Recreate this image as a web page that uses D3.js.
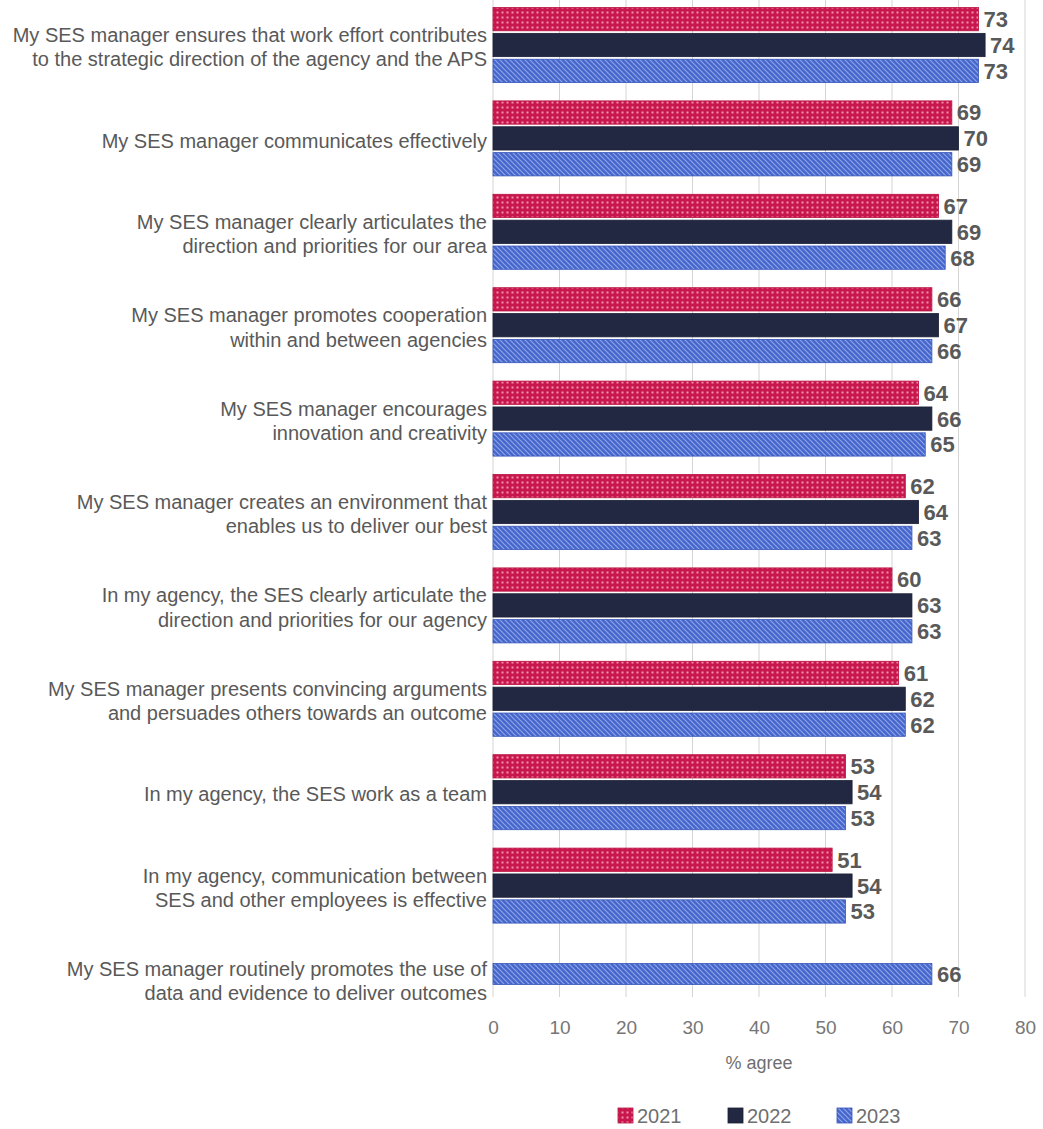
<!DOCTYPE html>
<html>
<head>
<meta charset="utf-8">
<script src="https://cdn.jsdelivr.net/npm/d3@7/dist/d3.min.js"></script>
<style>
  html, body { margin: 0; padding: 0; background: #ffffff; }
  svg { display: block; font-family: "Liberation Sans", Arial, sans-serif; }
</style>
</head>
<body>
<svg id="chart" width="1043" height="1129"></svg>
<script>
// ---- data ----
const categories = [
  ["My SES manager ensures that work effort contributes", "to the strategic direction of the agency and the APS"],
  ["My SES manager communicates effectively"],
  ["My SES manager clearly articulates the", "direction and priorities for our area"],
  ["My SES manager promotes cooperation", "within and between agencies"],
  ["My SES manager encourages", "innovation and creativity"],
  ["My SES manager creates an environment that", "enables us to deliver our best"],
  ["In my agency, the SES clearly articulate the", "direction and priorities for our agency"],
  ["My SES manager presents convincing arguments", "and persuades others towards an outcome"],
  ["In my agency, the SES work as a team"],
  ["In my agency, communication between", "SES and other employees is effective"],
  ["My SES manager routinely promotes the use of", "data and evidence to deliver outcomes"]
];
const seriesNames = ["2021", "2022", "2023"];
const values2021 = [73, 69, 67, 66, 64, 62, 60, 61, 53, 51, null];
const values2022 = [74, 70, 69, 67, 66, 64, 63, 62, 54, 54, null];
const values2023 = [73, 69, 68, 66, 65, 63, 63, 62, 53, 53, 66];
const xTicks = [0, 10, 20, 30, 40, 50, 60, 70, 80];
const xTitle = "% agree";

// ---- layout ----
const svg = d3.select("#chart");
const catKeys = categories.map((d, i) => "c" + i);
const allValues = [values2021, values2022, values2023];

const x = d3.scaleLinear().domain([0, 80]).range([493, 1025]);
const y = d3.scaleBand().domain(catKeys).range([-1.7, 1025.7])
  .paddingInner(0.197).paddingOuter(0.0985);
const plotTop = 0, plotBottom = 997;

// patterns
const defs = svg.append("defs");
const pRed = defs.append("pattern").attr("id", "pat2021")
  .attr("patternUnits", "userSpaceOnUse").attr("width", 5).attr("height", 5);
pRed.append("rect").attr("width", 5).attr("height", 5).attr("fill", "#C8174C");
pRed.append("rect").attr("x", 1.5).attr("y", 1.5).attr("width", 2).attr("height", 2).attr("fill", "#F391B0");

const pBlue = defs.append("pattern").attr("id", "pat2023")
  .attr("patternUnits", "userSpaceOnUse").attr("width", 5).attr("height", 5);
pBlue.append("rect").attr("width", 5).attr("height", 5).attr("fill", "#4566CC");
pBlue.append("path").attr("d", "M-1,-1 L6,6 M-1,4 L1,6 M4,-1 L6,1")
  .attr("stroke", "#8EA4E6").attr("stroke-width", 1.2);

const fills = { "2021": "url(#pat2021)", "2022": "#222842", "2023": "url(#pat2023)" };
const strokes = { "2021": "#B8103F", "2022": "#1A1F36", "2023": "#3554B8" };

// gridlines
svg.append("g").selectAll("line").data(xTicks).join("line")
  .attr("x1", d => x(d)).attr("x2", d => x(d))
  .attr("y1", plotTop).attr("y2", plotBottom)
  .attr("stroke", "#D4D4D4").attr("stroke-width", 1);

// bars
const barsG = svg.append("g");
catKeys.forEach((k, i) => {
  const present = seriesNames.filter((s, j) => allValues[j][i] != null);
  let inner;
  if (present.length === seriesNames.length) {
    inner = d3.scaleBand().domain(seriesNames).range([0, y.bandwidth()]).paddingInner(0.1);
  } else {
    const bw = y.bandwidth() / (seriesNames.length - 0.1);
    const bwAll = bw * 0.9 * present.length + bw * 0.1 * (present.length - 1);
    const off = (y.bandwidth() - bwAll) / 2 - 5;
    inner = d3.scaleBand().domain(present).range([off, off + bwAll]).paddingInner(0.1);
  }
  present.forEach(s => {
    const v = allValues[seriesNames.indexOf(s)][i];
    const by = y(k) + inner(s);
    barsG.append("rect")
      .attr("x", x(0)).attr("y", by)
      .attr("width", x(v) - x(0)).attr("height", inner.bandwidth())
      .attr("fill", fills[s]).attr("stroke", strokes[s]).attr("stroke-width", 0.8);
    barsG.append("text")
      .attr("x", x(v) + 5).attr("y", by + inner.bandwidth() / 2)
      .attr("dy", "0.36em")
      .attr("font-size", 22).attr("font-weight", "bold").attr("fill", "#595959")
      .text(v);
  });
});

// category labels
const labG = svg.append("g");
catKeys.forEach((k, i) => {
  const lines = categories[i];
  const cy = y(k) + y.bandwidth() / 2 + 2;
  const lh = 24.5;
  const t = labG.append("text")
    .attr("text-anchor", "end").attr("font-size", 20).attr("fill", "#595959");
  lines.forEach((ln, j) => {
    t.append("tspan").attr("x", 487)
      .attr("y", cy + (j - (lines.length - 1) / 2) * lh)
      .attr("dy", "0.36em").text(ln);
  });
});

// x axis tick labels
const axis = d3.axisBottom(x).tickValues(xTicks).tickSize(0).tickPadding(0);
const ag = svg.append("g").attr("transform", `translate(0,${1020})`).call(axis);
ag.select(".domain").remove();
ag.selectAll("text").attr("font-size", 19).attr("fill", "#767676")
  .attr("font-family", "'Liberation Sans', Arial, sans-serif");

svg.append("text").attr("x", (x(0) + x(80)) / 2).attr("y", 1069)
  .attr("text-anchor", "middle").attr("font-size", 18).attr("fill", "#6f6f6f")
  .text(xTitle);

// legend
const legX = [618, 728, 837];
const leg = svg.append("g");
seriesNames.forEach((s, i) => {
  leg.append("rect").attr("x", legX[i]).attr("y", 1108).attr("width", 15).attr("height", 15)
    .attr("fill", fills[s]).attr("stroke", strokes[s]).attr("stroke-width", 0.8);
  leg.append("text").attr("x", legX[i] + 19).attr("y", 1123)
    .attr("font-size", 20).attr("fill", "#6f6f6f").text(s);
});
</script>
</body>
</html>
